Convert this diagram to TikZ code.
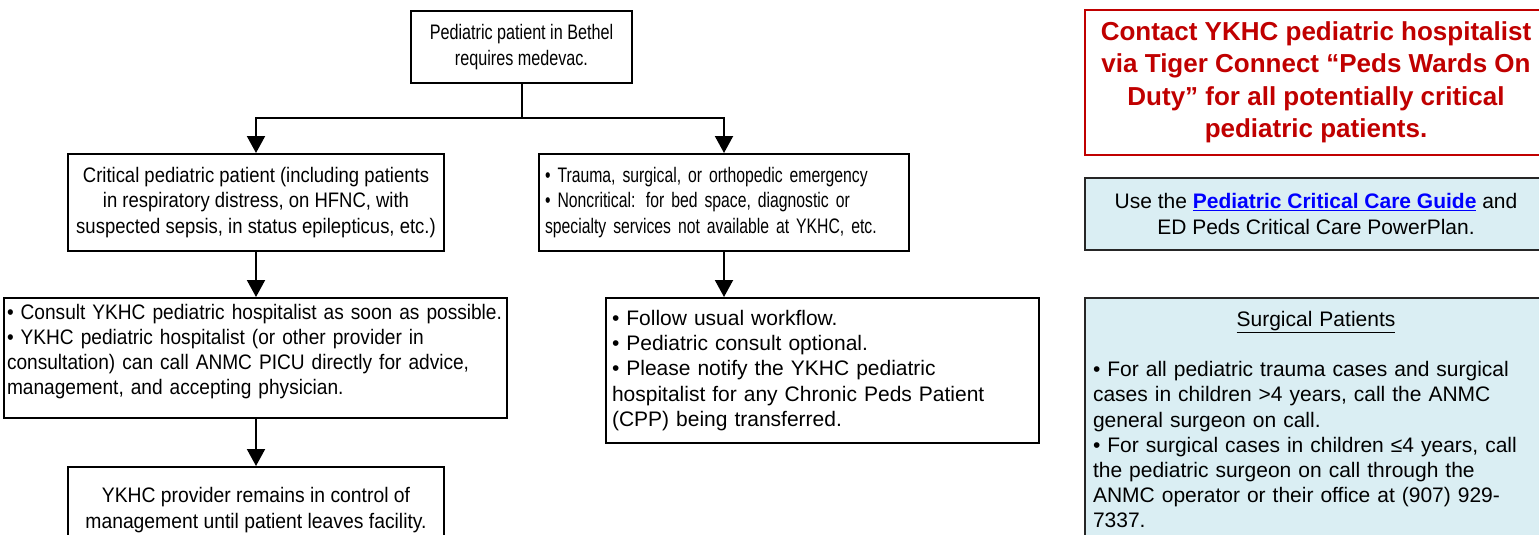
\documentclass[tikz,border=0pt]{standalone}
\usepackage{fontspec}
\setmainfont{Liberation Sans}
\newfontfamily\fA[FakeStretch=0.77]{Liberation Sans}
\newfontfamily\fT[FakeStretch=0.75]{Liberation Sans}
\newfontfamily\fB[FakeStretch=0.88]{Liberation Sans}
\newfontfamily\fD[FakeStretch=0.91]{Liberation Sans}
\newfontfamily\fE[FakeStretch=0.92]{Liberation Sans}
\usetikzlibrary{arrows.meta}
\definecolor{redc}{HTML}{C00000}
\definecolor{bluefill}{HTML}{DAEEF3}
\definecolor{linkc}{HTML}{0000FF}
\newcommand\ML[1]{\mbox{#1}}
\begin{document}
\begin{tikzpicture}[x=1pt,y=-1pt,
  box/.style={draw=black, line width=2pt, rectangle, inner xsep=6pt, inner ysep=0pt},
  infobox/.style={draw=black!85, line width=2.5pt, fill=bluefill, rectangle, inner xsep=8pt, inner ysep=0pt},
  redbox/.style={draw=redc, line width=2pt, rectangle, inner xsep=6pt, inner ysep=0pt, text=redc},
  arr/.style={line width=2pt, -{Triangle[width=18pt,length=17pt]}},
  conn/.style={line width=2pt},
  fsA/.style={font={\fA\fontsize{21}{25.2}\selectfont}},
  fsT/.style={font={\fT\fontsize{21}{25.2}\selectfont}},
  fsB/.style={font={\fB\fontsize{21}{25.2}\selectfont}},
  fsD/.style={font={\fD\fontsize{21}{25.2}\selectfont}},
  fsE/.style={font={\fE\fontsize{21}{25.2}\selectfont}},
  fsN/.style={font={\fontsize{21}{25.2}\selectfont}},
  fsR/.style={font={\bfseries\fontsize{26}{32.5}\selectfont}},
]
\useasboundingbox (0,0) rectangle (1539,535);
\clip (0,0) rectangle (1539,535);

% flow boxes
\node[box, fsA, minimum width=221, minimum height=72, align=center] (A) at (521.5,47)
  {Pediatric patient in Bethel\\requires medevac.};
\node[box, fsB, minimum width=376, minimum height=97, align=center] (B) at (256,202.5)
  {Critical pediatric patient (including patients\\in respiratory distress, on HFNC, with\\suspected sepsis, in status epilepticus, etc.)};
\node[box, fsT, minimum width=370, minimum height=97, text width=358, align=left] (C) at (724,202.5)
  {\ML{• Trauma, surgical, or orthopedic emergency}\\\ML{• Noncritical: for bed space, diagnostic or}\\\ML{specialty services not available at YKHC, etc.}};
\node[box, fsD, inner xsep=3pt, minimum width=503, minimum height=120, text width=497, align=left, text depth=93pt] (D) at (255.5,358)
  {\ML{• Consult YKHC pediatric hospitalist as soon as possible.}\\\ML{• YKHC pediatric hospitalist (or other provider in}\\\ML{consultation) can call ANMC PICU directly for advice,}\\\ML{management, and accepting physician.}};
\node[box, fsN, minimum width=433, minimum height=145, text width=421, align=left] (F) at (822.5,370.5)
  {\ML{• Follow usual workflow.}\\\ML{• Pediatric consult optional.}\\\ML{• Please notify the YKHC pediatric}\\\ML{hospitalist for any Chronic Peds Patient}\\\ML{(CPP) being transferred.}};
\node[box, fsE, minimum width=376, minimum height=86, align=center] (E) at (256,510)
  {YKHC provider remains in control of\\management until patient leaves facility.};

% right column
\node[redbox, fsR, minimum width=462, minimum height=145, align=center] (R) at (1316,82.5)
  {Contact YKHC pediatric hospitalist\\via Tiger Connect “Peds Wards On\\Duty” for all potentially critical\\pediatric patients.};
\node[infobox, fsN, minimum width=462, minimum height=72, align=center] (G) at (1316,214)
  {Use the \textcolor{linkc}{\textbf{\underline{Pediatric Critical Care Guide}}} and\\ED Peds Critical Care PowerPlan.};
\node[infobox, fsN, minimum width=462, minimum height=243, text width=446, align=left] (S) at (1316,419.5)
  {\makebox[446pt]{\underline{Surgical Patients}}\\[25.3pt]
   \ML{• For all pediatric trauma cases and surgical}\\\ML{cases in children >4 years, call the ANMC}\\\ML{general surgeon on call.}\\\ML{• For surgical cases in children ≤4 years, call}\\\ML{the pediatric surgeon on call through the}\\\ML{ANMC operator or their office at (907) 929-}\\\ML{7337.}};

% connectors
\coordinate (J) at (521.5,118);
\draw[conn] (A.south) -- (J);
\draw[arr] (J) -| (B.north);
\draw[arr] (J) -| (C.north);
\draw[arr] (B.south) -- (B.south |- D.north);
\draw[arr] (C.south) -- (C.south |- F.north);
\draw[arr] (E.north |- D.south) -- (E.north);
\end{tikzpicture}
\end{document}
